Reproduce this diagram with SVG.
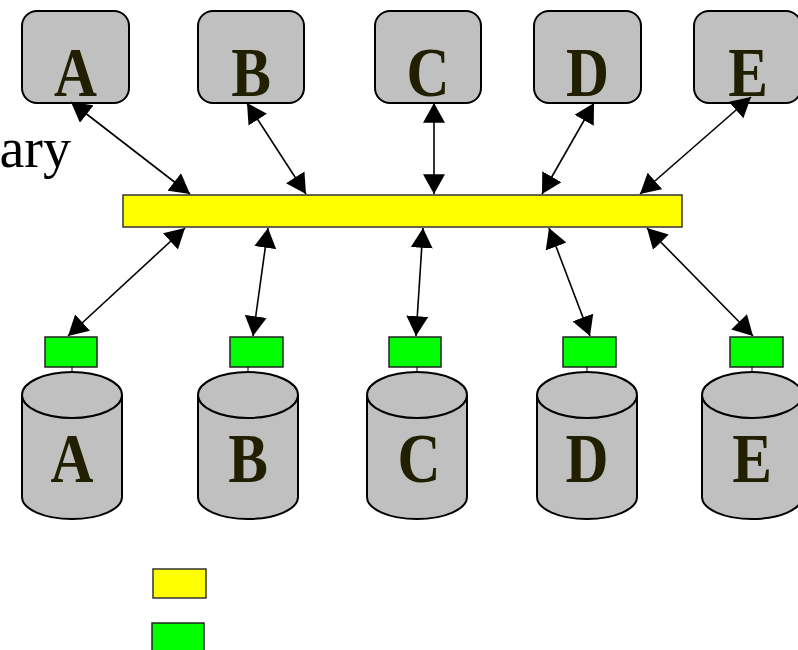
<svg xmlns="http://www.w3.org/2000/svg" width="798" height="650" viewBox="0 0 798 650">
<style>
.box{fill:#c0c0c0;stroke:#000;stroke-width:2}
.cyl{fill:#c0c0c0;stroke:#000;stroke-width:2}
.lbl{font-family:"Liberation Serif","Times New Roman",serif;font-weight:bold;font-size:70px;fill:#201f00;text-anchor:middle}
.bar{fill:#ffff00;stroke:#333;stroke-width:1.5}
.nic{fill:#00ff00;stroke:#222;stroke-width:1.5}
.con{stroke:#000;stroke-width:1.6;fill:none;marker-start:url(#ah);marker-end:url(#ah)}
.txt{font-family:"Liberation Serif","Times New Roman",serif;font-size:56px;fill:#000}
</style>
<defs>
<marker id="ah" markerUnits="userSpaceOnUse" markerWidth="20" markerHeight="22" viewBox="0 0 18 20" refX="18" refY="10" orient="auto-start-reverse">
<path d="M0,0 L18,10 L0,20 Z" fill="#000"/>
</marker>
</defs>
<rect width="798" height="650" fill="#fff"/>
<text class="txt" x="71" y="167" text-anchor="end">ary</text>
<g id="top-A"><rect class="box" x="22" y="11" width="107" height="92" rx="15"/><text class="lbl" transform="translate(75.5,96) scale(0.85,1)">A</text></g>
<g id="top-B"><rect class="box" x="198" y="11" width="106" height="92" rx="15"/><text class="lbl" transform="translate(251,96) scale(0.85,1)">B</text></g>
<g id="top-C"><rect class="box" x="375" y="11" width="106" height="92" rx="15"/><text class="lbl" transform="translate(428,96) scale(0.85,1)">C</text></g>
<g id="top-D"><rect class="box" x="534" y="11" width="107" height="92" rx="15"/><text class="lbl" transform="translate(587.5,96) scale(0.85,1)">D</text></g>
<g id="top-E"><rect class="box" x="694" y="11" width="107" height="92" rx="15"/><text class="lbl" transform="translate(748,96) scale(0.85,1)">E</text></g>
<g id="bus"><rect class="bar" x="123" y="195" width="559" height="32"/></g>
<g id="connectors">
<line class="con" x1="71" y1="102" x2="190" y2="194"/>
<line class="con" x1="247" y1="103" x2="306" y2="194"/>
<line class="con" x1="434" y1="103" x2="434" y2="194"/>
<line class="con" x1="594" y1="103" x2="542" y2="194"/>
<line class="con" x1="751" y1="97" x2="640" y2="194"/>
<line class="con" x1="185" y1="228" x2="68" y2="336"/>
<line class="con" x1="268" y1="228" x2="253" y2="336"/>
<line class="con" x1="423" y1="228" x2="416" y2="336"/>
<line class="con" x1="549" y1="228" x2="590" y2="336"/>
<line class="con" x1="647" y1="228" x2="753" y2="336"/>
</g>
<g id="nic-A"><rect class="nic" x="45" y="337" width="52" height="30"/></g>
<g id="nic-B"><rect class="nic" x="230" y="337" width="53" height="30"/></g>
<g id="nic-C"><rect class="nic" x="389" y="337" width="52" height="30"/></g>
<g id="nic-D"><rect class="nic" x="563" y="337" width="53" height="30"/></g>
<g id="nic-E"><rect class="nic" x="730" y="337" width="53" height="30"/></g>
<g id="db-A"><line x1="72" y1="367" x2="72" y2="372" stroke="#000"/><path class="cyl" d="M22,395 L22,497 A50,22 0 0 0 122,497 L122,395 A50,23 0 0 0 22,395 Z"/><path class="cyl" d="M22,395 A50,23 0 0 0 122,395" fill="none"/><text class="lbl" transform="translate(72,482) scale(0.85,1)">A</text></g>
<g id="db-B"><line x1="248" y1="367" x2="248" y2="372" stroke="#000"/><path class="cyl" d="M198,395 L198,497 A50,22 0 0 0 298,497 L298,395 A50,23 0 0 0 198,395 Z"/><path class="cyl" d="M198,395 A50,23 0 0 0 298,395" fill="none"/><text class="lbl" transform="translate(248,482) scale(0.85,1)">B</text></g>
<g id="db-C"><line x1="417" y1="367" x2="417" y2="372" stroke="#000"/><path class="cyl" d="M367,395 L367,497 A50,22 0 0 0 467,497 L467,395 A50,23 0 0 0 367,395 Z"/><path class="cyl" d="M367,395 A50,23 0 0 0 467,395" fill="none"/><text class="lbl" transform="translate(419,482) scale(0.85,1)">C</text></g>
<g id="db-D"><line x1="587" y1="367" x2="587" y2="372" stroke="#000"/><path class="cyl" d="M537,395 L537,497 A50,22 0 0 0 637,497 L637,395 A50,23 0 0 0 537,395 Z"/><path class="cyl" d="M537,395 A50,23 0 0 0 637,395" fill="none"/><text class="lbl" transform="translate(587,482) scale(0.85,1)">D</text></g>
<g id="db-E"><line x1="752" y1="367" x2="752" y2="372" stroke="#000"/><path class="cyl" d="M702,395 L702,497 A50,22 0 0 0 802,497 L802,395 A50,23 0 0 0 702,395 Z"/><path class="cyl" d="M702,395 A50,23 0 0 0 802,395" fill="none"/><text class="lbl" transform="translate(752,482) scale(0.85,1)">E</text></g>
<g id="legend-bus"><rect class="bar" x="153" y="569" width="53" height="29" stroke="#111" stroke-width="2"/></g>
<g id="legend-nic"><rect class="nic" x="152" y="623" width="52" height="32" stroke="#111" stroke-width="2"/></g>
</svg>
